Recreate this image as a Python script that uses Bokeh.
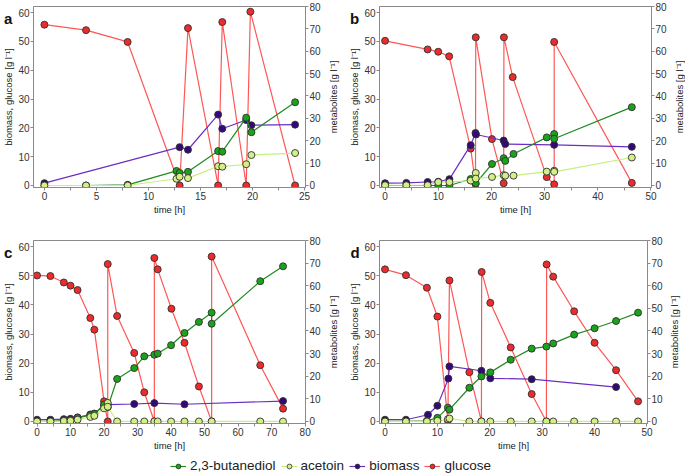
import math
from bokeh.plotting import figure
from bokeh.models import (Range1d, LinearAxis, FixedTicker, Label, Legend, LegendItem)
from bokeh.layouts import column, row
from bokeh.embed import file_html
from bokeh.resources import INLINE

# ---------------- data ----------------
series_names = ["2,3-butanediol", "acetoin", "biomass", "glucose"]

# panel a
a_glc_t = [0, 4, 8, 13.0, 13.8, 16.7, 17.1, 19.4, 19.8, 24.1]
a_glc = [55.8, 53.9, 49.8, 0, 54.6, 0, 56.7, 0, 60.3, 0]
a_bio_t = [0, 13.0, 13.8, 16.7, 17.1, 19.4, 19.9, 24.1]
a_bio = [0.8, 13.3, 12.4, 24.6, 19.7, 22.7, 20.9, 21.1]
a_bdo_t = [0, 4, 8, 12.7, 13.0, 13.8, 16.7, 17.1, 19.4, 19.9, 24.1]
a_bdo = [0, 0, 0.3, 6.5, 5.6, 6.1, 15.4, 15.1, 30.3, 23.8, 37.2]
a_act_t = [0, 4, 8, 12.7, 13.0, 13.8, 16.7, 17.1, 19.4, 19.9, 24.1]
a_act = [0, 0, 0, 3.0, 3.9, 3.3, 8.6, 8.4, 9.5, 13.6, 14.5]

# panel b
b_glc_t = [0, 8.0, 10.0, 12.05, 16.1, 17.0, 17.05, 20.1, 22.3, 22.35, 24.0, 30.4, 31.8, 31.8, 46.4]
b_glc = [50.2, 47.2, 46.4, 44.8, 12.8, 0.5, 51.4, 16.1, 0.8, 51.4, 37.6, 2.9, 0.4, 49.8, 0.9]
b_bio_t = [0, 4, 8, 10, 12.1, 16.1, 17.0, 17.1, 22.3, 22.6, 31.8, 46.4]
b_bio = [0.8, 0.9, 1.2, 1.3, 2.2, 14.0, 18.2, 17.7, 15.6, 14.4, 14.1, 13.4]
b_bdo_t = [0, 4, 8, 10, 12.1, 16.1, 17.05, 20.1, 22.3, 22.6, 24.15, 30.4, 31.8, 31.8, 46.4]
b_bdo = [0, 0, 0, 0, 0, 2.9, 0.9, 9.6, 12.2, 11.0, 14.1, 21.5, 23.0, 20.9, 35.0]
b_act_t = [0, 4, 8, 10, 12.1, 16.1, 17.05, 17.05, 20.1, 22.3, 22.6, 24.15, 30.4, 31.8, 31.8, 46.4]
b_act = [0.1, 0.1, 0.1, 1.5, 1.5, 2.2, 5.6, 3.1, 3.8, 4.6, 4.4, 4.4, 6.2, 6.6, 6.1, 12.5]

# panel c
c_glc_t = [0, 4, 8, 10, 12.1, 15.9, 17.1, 20.0, 21.1, 21.1, 23.9, 29.0, 32.0, 35.0, 35.0,
           36.0, 40.1, 44.0, 48.3, 52.1, 52.1, 66.6, 73.4]
c_glc = [50.1, 49.9, 47.7, 46.6, 45.1, 35.5, 31.5, 6.9, 0, 54.0, 36.2, 23.5, 10.0, 0, 56.1,
         52.2, 38.7, 27.0, 12.0, 0, 56.6, 19.3, 4.4]
c_bio_t = [0, 4, 8, 10, 12.1, 15.9, 17.1, 20.0, 21.1, 29.0, 35.0, 44.0, 73.4]
c_bio = [0.6, 0.6, 0.8, 0.9, 1.4, 2.4, 2.7, 5.5, 5.8, 6.0, 6.3, 5.9, 7.0]
c_bdo_t = [0, 4, 8, 10, 12.1, 15.9, 17.1, 20.0, 21.1, 23.9, 29.0, 32.0, 35.0, 36.0, 40.0,
           44.0, 48.3, 52.1, 52.1, 66.6, 73.4]
c_bdo = [0, 0, 0.5, 0.7, 1.6, 2.8, 3.3, 7.5, 6.3, 18.8, 23.6, 28.8, 29.5, 30.0, 33.7,
         39.1, 44.0, 48.1, 43.2, 62.0, 68.6]
c_act_t = [0, 4, 8, 10, 12.1, 15.9, 17.1, 20.0, 21.1, 21.1, 23.9, 29.0, 32.0, 35.0, 36.0,
           40.0, 44.0, 48.3, 52.1, 66.6, 73.4]
c_act = [0, 0, 0.2, 0.3, 0.8, 2.0, 2.5, 5.8, 8.2, 6.5, 0, 0, 0, 0, 0,
         0, 0, 0, 0, 0, 0]

# panel d
d_glc_t = [0, 4, 8, 10, 12.0, 12.3, 16.1, 18.4, 18.45, 20.1, 24.0, 28.0, 30.8, 30.85,
           32.1, 36.1, 40.0, 44.1, 48.3]
d_glc = [52.2, 50.2, 45.9, 36.0, 0.3, 48.4, 16.9, 0, 51.3, 40.7, 25.4, 9.4, 0, 53.9,
         49.7, 37.8, 27.0, 17.6, 6.9]
d_bio_t = [0, 4, 8.2, 10, 12.1, 12.3, 18.4, 20.1, 28.0, 44.1]
d_bio = [0.6, 0.6, 2.3, 5.4, 14.7, 18.9, 17.4, 14.8, 14.5, 11.8]
d_bdo_t = [0, 4, 8, 10, 12.0, 12.3, 16.1, 18.4, 20.1, 24.0, 28.0, 30.8, 32.1, 36.1,
           40.0, 44.1, 48.3]
d_bdo = [0, 0, 0.3, 1.6, 6.1, 5.2, 14.9, 19.9, 21.7, 27.3, 32.2, 33.1, 34.5, 38.4,
         41.2, 44.4, 48.1]
d_act_t = [0, 4, 8, 10, 12.0, 12.3, 16.1, 18.4, 20.1, 24.0, 28.0, 30.8, 32.1, 36.1,
           40.0, 44.1, 48.3]
d_act = [0, 0, 0, 0.3, 1.0, 1.3, 0, 0, 0, 0, 0, 0, 0, 0, 0, 0, 0]

left_ticks = [0, 10, 20, 30, 40, 50, 60]
right_ticks = [0, 10, 20, 30, 40, 50, 60, 70, 80]

# ---------------- styles ----------------
FONT = "Liberation Sans"
AX_COL = "#8a8a8a"
TXT_COL = "#333333"
COL = {
    "2,3-butanediol": ("#1e8c1e", "#1aa31a"),
    "acetoin": ("#c6ef7c", "#d3ef86"),
    "biomass": ("#6a2ec4", "#33087a"),
    "glucose": ("#ff5656", "#ec2c2c"),
}
FRAME_W = 272
YL = (-0.7, 62.1)
YR = (-0.9, 80)
TICK_FS = "10px"
LAB_FS = "9.5px"


def style_axis(ax):
    ax.axis_line_color = AX_COL
    ax.major_tick_line_color = AX_COL
    ax.minor_tick_line_color = AX_COL
    ax.major_tick_out = 3
    ax.major_tick_in = 0
    ax.minor_tick_out = 3
    ax.minor_tick_in = 0
    ax.major_label_text_font = FONT
    ax.major_label_text_font_size = TICK_FS
    ax.major_label_text_color = TXT_COL
    ax.major_label_standoff = 1
    ax.axis_label_text_font = FONT
    ax.axis_label_text_font_size = LAB_FS
    ax.axis_label_text_font_style = "normal"
    ax.axis_label_text_color = "#222222"
    ax.axis_label_standoff = 1


def series(p, t, v, name, y_range_name="default"):
    lc, fc = COL[name]
    kw = {} if y_range_name == "default" else {"y_range_name": y_range_name}
    p.line(t, v, line_color=lc, line_width=1.2, **kw)
    p.scatter(t, v, size=7, fill_color=fc, line_color="#303030", line_width=0.9, **kw)


def panel(letter, xend, xstep, data, w, h, bl, br, bt, bb, letter_side):
    (glc_t, glc, bio_t, bio, bdo_t, bdo, act_t, act) = data
    x0, x1 = -1.05, xend + 0.1
    ppu = FRAME_W / (x1 - x0)
    p = figure(width=w, height=h, output_backend="svg", toolbar_location=None,
               x_range=Range1d(x0, x1), y_range=Range1d(*YL),
               min_border_left=bl, min_border_right=br,
               min_border_top=bt, min_border_bottom=bb)
    p.extra_y_ranges = {"met": Range1d(*YR)}
    p.xgrid.visible = False
    p.ygrid.visible = False
    p.outline_line_color = AX_COL
    p.background_fill_color = "white"
    p.border_fill_color = "white"

    majors = list(range(0, int(xend) + 1, xstep))
    minors = [m + xstep / 2 for m in majors[:-1]]
    p.xaxis.ticker = FixedTicker(ticks=majors, minor_ticks=minors)
    p.xaxis.axis_label = "time [h]"
    p.yaxis.ticker = FixedTicker(ticks=left_ticks, minor_ticks=[])
    p.yaxis.axis_label = "biomass, glucose [g l\u207b\u00b9]"
    for ax in p.xaxis + p.yaxis:
        style_axis(ax)

    rax = LinearAxis(y_range_name="met", ticker=FixedTicker(ticks=right_ticks, minor_ticks=[]))
    style_axis(rax)
    p.add_layout(rax, "right")

    series(p, glc_t, glc, "glucose")
    series(p, bio_t, bio, "biomass")
    series(p, bdo_t, bdo, "2,3-butanediol", "met")
    series(p, act_t, act, "acetoin", "met")

    # right axis title, reading bottom-to-top (side panel, so it is not clipped)
    rlab = Label(x=x1 + 27.5 / ppu, y=(YL[0] + YL[1]) / 2, x_units="data", y_units="data",
                 text="metabolites [g l\u207b\u00b9]", angle=math.pi / 2,
                 text_font=FONT, text_font_size=LAB_FS, text_color="#222222",
                 text_align="center", text_baseline="middle")
    p.add_layout(rlab, "right")

    # panel letter
    lab = Label(x=x0 - 29.5 / ppu, y=57.9, x_units="data", y_units="data", text=letter,
                text_font=FONT, text_font_style="bold", text_font_size="15px",
                text_baseline="alphabetic", text_align="left", text_color="#111111")
    p.add_layout(lab, letter_side)
    return p


pa = panel("a", 25, 5, (a_glc_t, a_glc, a_bio_t, a_bio, a_bdo_t, a_bdo, a_act_t, a_act),
           342, 234, 33, 37, 6, 45, "below")
pb = panel("b", 50, 10, (b_glc_t, b_glc, b_bio_t, b_bio, b_bdo_t, b_bdo, b_act_t, b_act),
           343, 234, 37, 34, 6, 45, "below")
pc = panel("c", 80, 10, (c_glc_t, c_glc, c_bio_t, c_bio, c_bdo_t, c_bdo, c_act_t, c_act),
           342, 224, 33, 37, 6, 35, "right")
pd = panel("d", 50, 10, (d_glc_t, d_glc, d_bio_t, d_bio, d_bdo_t, d_bdo, d_act_t, d_act),
           343, 224, 37, 34, 6, 35, "right")

# ---------------- legend ----------------
NAN = float("nan")
leg = figure(width=685, height=16, output_backend="svg", toolbar_location=None,
             x_axis_type=None, y_axis_type=None, min_border=0,
             x_range=Range1d(0, 1), y_range=Range1d(0, 1))
leg.outline_line_color = None
leg.xgrid.visible = False
leg.ygrid.visible = False
items = []
for name in series_names:
    lc, fc = COL[name]
    lr = leg.line([0, 1], [NAN, NAN], line_color=lc, line_width=1.2)
    sr = leg.scatter([0], [NAN], size=5, fill_color=fc, line_color="#303030", line_width=0.8)
    items.append(LegendItem(label=name, renderers=[lr, sr]))
legend = Legend(items=items, orientation="horizontal", location=(170, 1),
                glyph_width=16, glyph_height=12, label_standoff=4, spacing=5,
                padding=0, margin=0, border_line_color=None, background_fill_alpha=0,
                label_text_font=FONT, label_text_font_size="13.5px", label_text_color="#222222",
                label_height=12)
leg.add_layout(legend, "center")

layout = column(row(pa, pb), row(pc, pd), leg)
open("out.html", "w").write(file_html(layout, INLINE))
